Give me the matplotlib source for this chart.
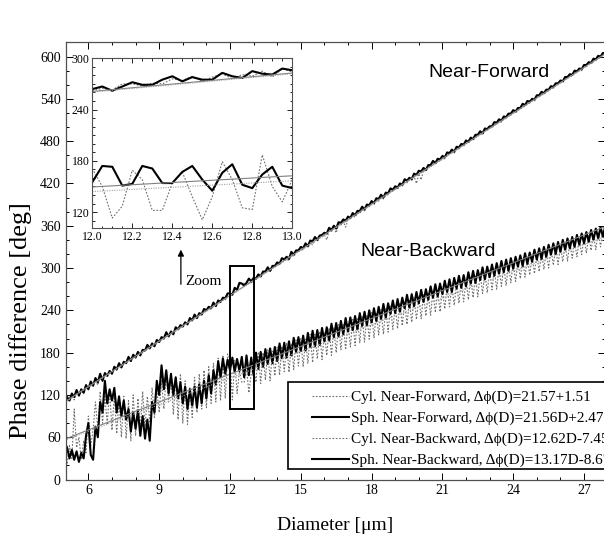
import numpy as np
import matplotlib
matplotlib.use("Agg")
import matplotlib.pyplot as plt
from matplotlib.patches import Rectangle
from matplotlib.lines import Line2D

SERIF = ["Liberation Serif", "DejaVu Serif"]
SANS = ["Liberation Sans", "DejaVu Sans"]
plt.rcParams["font.family"] = SERIF

# diameter sampling of the computed curves [um]
diameter = np.round(np.arange(5.0, 27.95, 0.1), 1)

# phase difference [deg], one row per micron (5..27)
sph_fwd = [
    110, 117, 112, 122, 117, 127, 119, 128, 123, 134,
    128, 139, 133, 144, 138, 150, 140, 151, 147, 154,
    150, 160, 156, 165, 159, 167, 165, 174, 168, 177,
    173, 181, 176, 184, 183, 191, 186, 193, 189, 198,
    195, 202, 200, 209, 203, 210, 206, 216, 213, 219,
    217, 223, 220, 229, 226, 234, 229, 236, 234, 242,
    240, 245, 243, 251, 246, 254, 252, 258, 257, 264,
    264, 262, 272, 269, 279, 278, 275, 279, 285, 281,
    286, 285, 291, 288, 295, 295, 301, 296, 303, 303,
    308, 306, 314, 312, 316, 313, 323, 319, 325, 325,
    330, 328, 335, 331, 339, 338, 344, 340, 346, 347,
    350, 349, 357, 354, 360, 356, 365, 364, 369, 367,
    373, 371, 378, 375, 381, 381, 387, 383, 390, 389,
    395, 392, 399, 398, 404, 400, 407, 406, 413, 411,
    416, 414, 420, 418, 426, 424, 428, 426, 434, 432,
    438, 437, 442, 439, 446, 446, 452, 449, 455, 454,
    459, 457, 464, 463, 468, 465, 472, 471, 476, 475,
    481, 479, 485, 483, 489, 489, 494, 491, 498, 497,
    501, 501, 507, 506, 511, 509, 515, 514, 519, 519,
    524, 522, 527, 527, 533, 531, 537, 536, 540, 539,
    545, 545, 550, 548, 553, 553, 558, 557, 562, 562,
    566, 565, 571, 571, 575, 574, 580, 579, 583, 582,
    588, 588, 592, 591, 597, 596, 601, 600, 605, 605,
]
cyl_fwd = [
    108, 112, 115, 118, 113, 124, 121, 124, 126, 130,
    131, 133, 137, 140, 134, 146, 143, 147, 148, 151,
    152, 157, 158, 161, 160, 164, 166, 170, 169, 173,
    174, 178, 178, 182, 181, 187, 186, 190, 190, 194,
    196, 199, 200, 204, 203, 207, 207, 212, 212, 216,
    217, 220, 221, 225, 225, 229, 230, 233, 234, 238,
    239, 242, 242, 247, 246, 251, 251, 255, 255, 260,
    262, 263, 270, 271, 276, 279, 278, 276, 279, 278,
    284, 284, 288, 287, 292, 292, 297, 295, 300, 301,
    304, 305, 310, 309, 313, 310, 319, 316, 322, 323,
    326, 326, 332, 329, 336, 333, 340, 338, 343, 344,
    347, 340, 353, 352, 356, 350, 362, 361, 366, 358,
    369, 370, 375, 372, 378, 377, 383, 381, 387, 387,
    391, 390, 396, 395, 400, 398, 403, 404, 409, 409,
    412, 412, 417, 416, 422, 421, 425, 424, 430, 420,
    434, 425, 439, 437, 443, 443, 448, 447, 451, 452,
    455, 455, 460, 461, 464, 463, 469, 469, 473, 473,
    477, 477, 482, 481, 486, 487, 491, 489, 495, 495,
    499, 499, 503, 504, 508, 507, 512, 512, 516, 517,
    520, 520, 524, 525, 529, 529, 533, 534, 537, 537,
    542, 543, 546, 546, 550, 551, 555, 555, 559, 560,
    563, 563, 568, 569, 572, 572, 577, 577, 580, 580,
    585, 586, 589, 589, 594, 594, 598, 598, 602, 603,
]
sph_bwd = [
    52, 45, 30, 42, 28, 40, 25, 38, 30, 62,
    80, 35, 28, 75, 60, 110, 95, 140, 108, 128,
    112, 130, 95, 118, 90, 112, 85, 100, 68, 95,
    72, 98, 62, 90, 58, 85, 55, 110, 95, 140,
    120, 162, 128, 155, 122, 150, 120, 145, 115, 138,
    108, 132, 100, 128, 105, 132, 102, 135, 108, 140,
    115, 148, 122, 155, 135, 168, 145, 172, 150, 170,
    155, 173, 153, 171, 154, 174, 145, 176, 148, 173,
    148, 180, 157, 181, 160, 185, 164, 186, 165, 188,
    168, 193, 172, 194, 173, 196, 176, 201, 181, 202,
    182, 204, 183, 208, 188, 211, 189, 212, 191, 215,
    196, 216, 197, 221, 202, 222, 203, 225, 206, 229,
    210, 230, 212, 232, 213, 236, 218, 238, 219, 240,
    223, 243, 225, 245, 228, 249, 230, 250, 235, 254,
    236, 256, 238, 258, 243, 262, 244, 263, 246, 266,
    250, 269, 252, 270, 255, 274, 258, 277, 260, 278,
    263, 282, 266, 284, 266, 286, 271, 289, 272, 290,
    274, 294, 278, 296, 279, 297, 283, 301, 284, 302,
    287, 305, 289, 307, 292, 310, 294, 312, 296, 314,
    299, 316, 302, 318, 303, 321, 306, 322, 309, 326,
    312, 328, 313, 330, 316, 333, 319, 335, 320, 337,
    323, 340, 326, 342, 328, 344, 330, 347, 333, 349,
    335, 351, 337, 354, 340, 356, 342, 358, 344, 360,
]
cyl_bwd = [
    35, 22, 48, 30, 100, 45, 60, 28, 55, 38,
    90, 48, 70, 110, 72, 125, 80, 118, 78, 128,
    70, 122, 65, 115, 60, 118, 58, 112, 55, 120,
    62, 115, 70, 125, 75, 118, 82, 130, 88, 128,
    95, 140, 100, 148, 110, 150, 92, 145, 85, 150,
    80, 140, 78, 130, 88, 145, 95, 150, 100, 155,
    102, 160, 108, 165, 110, 172, 112, 175, 115, 178,
    171, 113, 169, 122, 154, 138, 138, 158, 123, 150,
    158, 138, 181, 136, 180, 141, 184, 140, 182, 147,
    188, 148, 189, 153, 194, 152, 193, 156, 198, 161,
    200, 160, 199, 165, 206, 166, 206, 171, 210, 170,
    209, 176, 215, 176, 215, 180, 220, 184, 221, 184,
    222, 188, 227, 190, 228, 194, 232, 195, 232, 199,
    237, 201, 237, 205, 241, 206, 242, 209, 246, 213,
    246, 214, 251, 218, 252, 220, 254, 223, 258, 227,
    259, 228, 262, 232, 264, 233, 267, 237, 268, 238,
    271, 242, 275, 245, 275, 247, 279, 250, 281, 252,
    283, 255, 287, 258, 288, 259, 292, 264, 293, 265,
    297, 269, 298, 270, 300, 274, 303, 275, 305, 279,
    308, 281, 310, 285, 313, 287, 315, 290, 317, 292,
    319, 295, 322, 298, 324, 300, 327, 304, 329, 305,
    331, 309, 334, 310, 336, 314, 338, 316, 341, 319,
    343, 321, 346, 325, 348, 326, 351, 330, 353, 332,
]

# linear fits, end points read at D = 5 and D = 28
fit_d = [5.0, 28.0]
fit_sph_fwd = [110.3, 606.2]
fit_cyl_fwd = [109.4, 605.5]
fit_sph_bwd = [57.2, 360.1]
fit_cyl_bwd = [55.7, 345.9]

# zoomed window 12-13 um
zoom_d = np.round(np.arange(12.0, 13.01, 0.05), 2)
zoom_sph_fwd = [264, 267, 262, 267, 272, 269, 269, 275, 279, 273, 278,
                275, 275, 283, 279, 277, 285, 282, 281, 288, 286]
zoom_cyl_fwd = [262, 265, 263, 270, 270, 268, 271, 270, 276, 274, 279,
                273, 278, 282, 276, 281, 279, 285, 278, 288, 284]
zoom_sph_bwd = [155, 174, 173, 151, 153, 174, 171, 154, 154, 167, 174,
                158, 145, 166, 176, 152, 148, 164, 173, 151, 148]
zoom_cyl_bwd = [171, 150, 113, 127, 169, 158, 122, 122, 154, 167, 138,
                111, 138, 179, 158, 125, 123, 187, 150, 132, 158]
zoom_fit_d = [12.0, 13.0]
zoom_fit_sph_fwd = [261.2, 282.8]
zoom_fit_cyl_fwd = [260.4, 281.9]
zoom_fit_sph_bwd = [149.4, 162.5]
zoom_fit_cyl_bwd = [144.0, 156.6]

legend_labels = [
    "Cyl. Near-Forward, \u0394\u03d5(D)=21.57+1.51",
    "Sph. Near-Forward, \u0394\u03d5(D)=21.56D+2.47",
    "Cyl. Near-Backward, \u0394\u03d5(D)=12.62D-7.45",
    "Sph. Near-Backward, \u0394\u03d5(D)=13.17D-8.67",
]

CYL = dict(color="#6e6e6e", lw=0.8, ls=(0, (1.5, 1.5)))
SPH = dict(color="black", lw=1.5)
FIT_SPH = dict(color="#808080", lw=0.8)
FIT_CYL = dict(color="#a0a0a0", lw=0.8, ls=(0, (1, 1.2)))
SPINE = "#505050"

fig = plt.figure(figsize=(6.04, 5.40), dpi=100)
ax = fig.add_axes([0.1088, 0.1120, 0.8929, 0.8107])

ax.plot(diameter, cyl_fwd, **CYL)
ax.plot(diameter, cyl_bwd, **CYL)
ax.plot(diameter, sph_fwd, **SPH)
ax.plot(diameter, sph_bwd, **SPH)
ax.plot(fit_d, fit_sph_fwd, **FIT_SPH)
ax.plot(fit_d, fit_cyl_fwd, **FIT_CYL)
ax.plot(fit_d, fit_sph_bwd, **FIT_SPH)
ax.plot(fit_d, fit_cyl_bwd, **FIT_CYL)

ax.set_xlim(5.04, 27.89)
ax.set_ylim(0, 621)
ax.set_xticks(np.arange(6, 28, 3))
ax.set_xticks(np.arange(6, 28, 1), minor=True)
ax.set_yticks(np.arange(0, 601, 60))
ax.set_yticks(np.arange(0, 621, 20), minor=True)
ax.tick_params(which="both", direction="in", top=True, right=True,
               labelsize=10, colors="black", width=0.7)
ax.tick_params(which="major", length=5)
ax.tick_params(which="minor", length=2.5)
for s in ax.spines.values():
    s.set_color(SPINE)
    s.set_linewidth(0.9)
ax.set_xlabel("Diameter [\u03bcm]", fontsize=14, labelpad=14)
ax.set_ylabel("Phase difference [deg]", fontsize=19)
ax.yaxis.set_label_coords(-0.0625, 0.362)

ax.text(22.97, 578, "Near-Forward", family=SANS, fontsize=14,
        ha="center", va="center")
ax.text(20.38, 324, "Near-Backward", family=SANS, fontsize=14,
        ha="center", va="center")

# zoomed region marker and arrow
ax.add_patch(Rectangle((12.0, 100), 1.0, 203, fill=False,
                       ec="black", lw=1.4, zorder=6))
ax.annotate("", xy=(9.92, 330), xytext=(9.92, 273),
            arrowprops=dict(arrowstyle="-|>", color="black", lw=0.9,
                            mutation_scale=9))
ax.text(10.1, 281, "Zoom", fontsize=11, ha="left", va="center")

# legend frame runs past the right edge of the picture
ax.add_patch(Rectangle((0.4122, 0.024), 0.7, 0.1987, transform=ax.transAxes,
                       fill=True, fc="white", ec="black", lw=1.2,
                       clip_on=False, zorder=7))
handles = [
    Line2D([], [], **CYL),
    Line2D([], [], **SPH),
    Line2D([], [], **CYL),
    Line2D([], [], **SPH),
]
leg = ax.legend(handles, legend_labels, loc="upper left",
                bbox_to_anchor=(0.4567, 0.204), frameon=False,
                fontsize=11, borderpad=0, borderaxespad=0,
                handlelength=2.4, handletextpad=0.15, labelspacing=0.47)
leg.set_zorder(8)

# inset
ins = fig.add_axes([0.1528, 0.5772, 0.3311, 0.3148])
ins.plot(zoom_d, zoom_cyl_fwd, **CYL)
ins.plot(zoom_d, zoom_cyl_bwd, **CYL)
ins.plot(zoom_d, zoom_sph_fwd, **SPH)
ins.plot(zoom_d, zoom_sph_bwd, **SPH)
ins.plot(zoom_fit_d, zoom_fit_sph_fwd, **FIT_SPH)
ins.plot(zoom_fit_d, zoom_fit_cyl_fwd, **FIT_CYL)
ins.plot(zoom_fit_d, zoom_fit_sph_bwd, **FIT_SPH)
ins.plot(zoom_fit_d, zoom_fit_cyl_bwd, **FIT_CYL)
ins.set_xlim(12.0, 13.0)
ins.set_ylim(101, 300)
ins.set_xticks(np.round(np.arange(12.0, 13.01, 0.2), 1))
ins.set_xticklabels(["12.0", "12.2", "12.4", "12.6", "12.8", "13.0"])
ins.set_xticks(np.arange(12.0, 13.01, 0.05), minor=True)
ins.set_yticks([120, 180, 240, 300])
ins.set_yticks(np.arange(110, 301, 10), minor=True)
ins.tick_params(which="both", direction="in", top=True, right=True,
                labelsize=8.5, width=0.6, pad=2)
ins.tick_params(which="major", length=3.5)
ins.tick_params(which="minor", length=1.8)
for s in ins.spines.values():
    s.set_color(SPINE)
    s.set_linewidth(0.8)

fig.savefig("out.png", dpi=100)
